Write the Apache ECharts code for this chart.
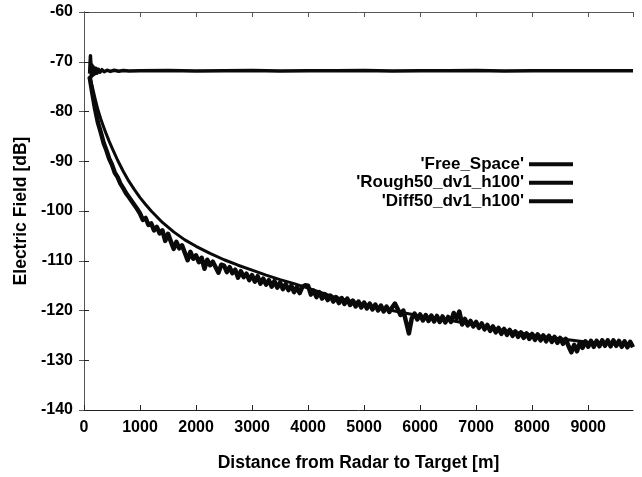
<!DOCTYPE html>
<html>
<head>
<meta charset="utf-8">
<script src="https://cdn.jsdelivr.net/npm/echarts@6/dist/echarts.min.js"></script>
<style>html,body{margin:0;padding:0;background:#fff;}#c{width:642px;height:477px;}</style>
</head>
<body>
<div id="c"></div>
<script>
var seriesNames = ["'Free_Space'", "'Rough50_dv1_h100'", "'Diff50_dv1_h100'"];
var xTicks = [0,1000,2000,3000,4000,5000,6000,7000,8000,9000];

var freeX = [100,108,115,122,130,138,147,157,168,180,195,212,232,255,285,320,360,410,470,540,620,700,800,1000,1500,2000,2500,3000,3500,4000,4500,5000,5500,6000,6500,7000,7500,8000,8500,9000,9500,9800];
var freeY = [-72.4,-70.4,-68.8,-70.3,-73.0,-70.6,-72.8,-70.9,-72.6,-71.2,-72.4,-71.3,-72.3,-71.5,-72.1,-71.6,-72.0,-71.7,-71.95,-71.7,-71.9,-71.75,-71.85,-71.8,-71.75,-71.85,-71.8,-71.75,-71.85,-71.8,-71.8,-71.75,-71.85,-71.8,-71.8,-71.75,-71.85,-71.8,-71.8,-71.8,-71.8,-71.8];

var roughX = [100,150,200,250,300,350,400,450,500,600,700,800,900,1000,1100,1200,1400,1600,1800,2000,2250,2500,2750,3000,3250,3500,3750,4000,4500,5000,5500,6000,6500,7000,7500,8000,8500,9000,9500,9800];
var roughY = [-72.8,-75.1,-77.5,-79.7,-81.5,-83.1,-84.6,-86.0,-87.3,-89.8,-92.0,-94.0,-95.7,-97.3,-98.7,-100.0,-102.3,-104.2,-105.8,-107.1,-108.5,-109.8,-110.9,-111.9,-112.9,-113.8,-114.6,-115.5,-117.4,-118.8,-120.0,-121.1,-121.9,-122.9,-124.0,-124.9,-125.7,-126.4,-126.6,-126.8];

var diffX = [100,150,200,250,300,350,400,450,500,550,600,650,700,750,800,850,900,950,
  1000,1050,1100,1150,1200,1250,1300,1350,1400,1450,
  1500,1550,1600,1650,1700,1750,1800,1850,1900,1950,
  2000,2050,2100,2150,2200,2250,2300,2350,2400,2450,
  2500,2550,2600,2650,2700,2750,2800,2850,2900,2950,
  3000,3050,3100,3150,3200,3250,3300,3350,3400,3450,
  3500,3550,3600,3650,3700,3750,3800,3850,3900,3950,
  4000,4050,4100,4150,4200,4250,4300,4350,4400,4450,
  4500,4550,4600,4650,4700,4750,4800,4850,4900,4950,
  5000,5050,5100,5150,5200,5250,5300,5350,5400,5450,
  5500,5550,5600,5650,5700,5750,5800,5850,5900,5950,
  6000,6050,6100,6150,6200,6250,6300,6350,6400,6450,
  6500,6550,6600,6650,6700,6750,6800,6850,6900,6950,
  7000,7050,7100,7150,7200,7250,7300,7350,7400,7450,
  7500,7550,7600,7650,7700,7750,7800,7850,7900,7950,
  8000,8050,8100,8150,8200,8250,8300,8350,8400,8450,
  8500,8550,8600,8650,8700,8750,8800,8850,8900,8950,
  9000,9050,9100,9150,9200,9250,9300,9350,9400,9450,
  9500,9550,9600,9650,9700,9750,9800];
var diffY = [-73.0,-76.4,-79.6,-82.3,-84.2,-86.3,-87.8,-89.5,-90.7,-92.3,-93.2,-94.5,-95.4,-96.4,-97.2,-98.0,-98.8,-99.6,
  -100.5,-101.8,-101.4,-102.8,-102.5,-103.9,-103.2,-104.5,-103.9,-106.0,
  -104.6,-106.1,-107.6,-106.2,-107.5,-106.9,-108.4,-109.9,-108.2,-109.6,
  -108.9,-110.3,-109.4,-111.6,-109.8,-110.9,-110.2,-111.3,-112.4,-110.8,
  -111.0,-112.3,-111.3,-112.5,-111.8,-113.4,-112.1,-113.3,-112.6,-113.9,
  -112.9,-114.2,-113.1,-114.6,-113.6,-114.8,-113.9,-115.2,-114.1,-115.4,
  -114.4,-115.7,-114.7,-115.9,-115.0,-116.3,-115.3,-116.5,-115.2,-114.9,
  -115.0,-116.8,-116.0,-117.3,-116.3,-117.6,-116.7,-117.9,-117.0,-118.2,
  -117.3,-118.5,-117.5,-118.7,-117.6,-118.9,-118.0,-119.2,-118.2,-119.4,
  -118.4,-119.6,-118.6,-119.8,-118.8,-120.0,-119.0,-120.2,-119.2,-120.3,
  -119.4,-118.6,-119.7,-120.9,-120.0,-122.3,-124.6,-121.6,-120.6,-121.8,
  -120.8,-122.0,-120.9,-122.1,-121.0,-122.2,-121.1,-122.3,-121.2,-122.4,
  -121.3,-122.3,-120.5,-121.6,-120.2,-122.8,-121.7,-123.0,-122.1,-123.2,
  -122.3,-123.5,-122.6,-123.8,-122.9,-124.1,-123.2,-124.4,-123.5,-124.7,
  -123.7,-124.9,-123.9,-125.1,-124.2,-125.3,-124.4,-125.5,-124.6,-125.7,
  -124.7,-125.9,-124.8,-126.0,-125.0,-126.2,-125.1,-126.3,-125.3,-126.5,
  -125.5,-126.7,-125.7,-127.2,-128.4,-126.9,-128.2,-126.5,-127.5,-126.2,
  -127.3,-126.1,-127.3,-126.1,-127.2,-126.0,-127.1,-126.0,-127.2,-126.0,
  -127.1,-126.1,-127.3,-126.2,-127.4,-126.3,-127.4];

function zip(xs, ys) { return xs.map(function (x, i) { return [x, ys[i]]; }); }

var FONT = 'Liberation Sans, Arial, sans-serif';
var ink = '#0a0a0a';
var chart = echarts.init(document.getElementById('c'), null, {renderer: 'canvas'});
var axisLineStyle = {color: '#222', width: 1};
chart.setOption({
  animation: false,
  backgroundColor: '#fff',
  grid: {left: 84, right: 9, top: 12, bottom: 64},
  legend: {
    orient: 'vertical', right: 64, top: 150, align: 'right',
    icon: 'rect', itemWidth: 44, itemHeight: 4, itemGap: 0,
    textStyle: {fontFamily: FONT, fontWeight: 'bold', fontSize: 17, color: '#000', lineHeight: 18.5},
    data: seriesNames
  },
  xAxis: [{
    type: 'value', min: 0, max: 9800, interval: 1000, position: 'bottom',
    name: 'Distance from Radar to Target [m]', nameLocation: 'middle', nameGap: 44,
    nameTextStyle: {fontFamily: FONT, fontWeight: 'bold', fontSize: 17.5, color: '#000'},
    axisLine: {show: true, lineStyle: axisLineStyle},
    axisTick: {show: true, inside: true, length: 5, lineStyle: axisLineStyle},
    axisLabel: {fontFamily: FONT, fontWeight: 'bold', fontSize: 16, color: '#000', margin: 10,
      showMaxLabel: false,
      formatter: function (v) { return xTicks.indexOf(v) >= 0 ? String(v) : ''; }},
    splitLine: {show: false}
  }, {
    type: 'value', min: 0, max: 9800, interval: 1000, position: 'top',
    axisLine: {show: true, lineStyle: {color: '#555', width: 1}},
    axisTick: {show: true, inside: true, length: 5, lineStyle: {color: '#555'}},
    axisLabel: {show: false}, splitLine: {show: false}
  }],
  yAxis: [{
    type: 'value', min: -140, max: -60, interval: 10, position: 'left',
    name: 'Electric Field [dB]', nameLocation: 'middle', nameGap: 50,
    nameTextStyle: {fontFamily: FONT, fontWeight: 'bold', fontSize: 17.5, color: '#000'},
    axisLine: {show: true, lineStyle: axisLineStyle},
    axisTick: {show: true, inside: true, length: 5, lineStyle: axisLineStyle},
    axisLabel: {fontFamily: FONT, fontWeight: 'bold', fontSize: 16, color: '#000', margin: 11},
    splitLine: {show: false}
  }, {
    type: 'value', min: -140, max: -60, interval: 10, position: 'right',
    axisLine: {show: true, lineStyle: {color: '#555', width: 1}},
    axisTick: {show: true, inside: true, length: 5, lineStyle: {color: '#555'}},
    axisLabel: {show: false}, splitLine: {show: false}
  }],
  series: [
    {name: seriesNames[0], type: 'line', data: zip(freeX, freeY), showSymbol: false, symbol: 'none',
      lineStyle: {color: ink, width: 3.5, join: 'round'}, itemStyle: {color: ink}},
    {name: seriesNames[1], type: 'line', data: zip(roughX, roughY), showSymbol: false, symbol: 'none',
      lineStyle: {color: ink, width: 3, join: 'round'}, itemStyle: {color: ink}},
    {name: seriesNames[2], type: 'line', data: zip(diffX, diffY), showSymbol: false, symbol: 'none',
      lineStyle: {color: ink, width: 4.5, join: 'round'}, itemStyle: {color: ink}}
  ]
});
</script>
</body>
</html>
